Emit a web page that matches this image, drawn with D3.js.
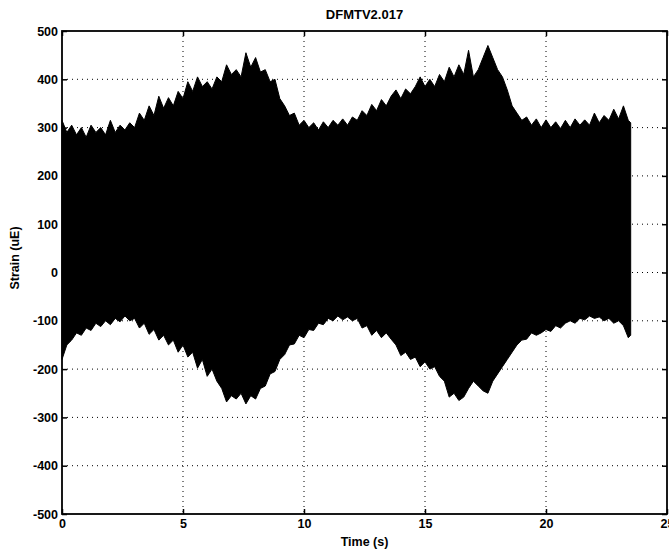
<!DOCTYPE html>
<html>
<head>
<meta charset="utf-8">
<script src="https://cdn.jsdelivr.net/npm/d3@7"></script>
<style>
  body { margin: 0; background: #fff; }
  text { font-family: "Liberation Sans", Arial, Helvetica, sans-serif; font-weight: bold; }
</style>
</head>
<body>
<svg id="chart" width="669" height="551"></svg>
<script>
// signal envelope, sampled every 0.2 s (last point is the end of record)
const sampleStep = 0.2;
const endTime = 23.5;
const upperEnv = [
  315, 290, 305, 285, 300, 280, 305, 290, 300, 285,
  315, 290, 305, 295, 310, 300, 330, 315, 345, 325,
  365, 340, 362, 345, 375, 360, 395, 375, 405, 385,
  395, 380, 405, 395, 430, 410, 420, 405, 455, 425,
  445, 415, 420, 395, 400, 360, 345, 325, 330, 305,
  315, 300, 310, 295, 312, 300, 315, 305, 318, 305,
  322, 315, 335, 325, 348, 335, 358, 345, 365, 378,
  360, 380, 370, 385, 405, 385, 400, 385, 410, 395,
  425, 405, 430, 410, 460, 405, 420, 445, 470, 445,
  420, 405, 378, 345, 330, 315, 322, 305, 318, 300,
  316, 300, 312, 298, 315, 300, 318, 305, 316, 305,
  330, 310, 325, 315, 338, 318, 345, 315, 310
];
const lowerEnv = [
  -180, -150, -140, -125, -130, -115, -120, -105, -112, -100,
  -108, -95, -102, -90, -100, -95, -115, -105, -128, -118,
  -140, -130, -150, -140, -165, -150, -175, -165, -198, -180,
  -215, -200, -225, -240, -268, -255, -262, -250, -272, -255,
  -262, -240, -235, -210, -205, -180, -170, -150, -148, -130,
  -135, -118, -120, -105, -108, -95, -100, -90, -98, -92,
  -100, -95, -115, -110, -130, -120, -135, -125, -138, -150,
  -172, -165, -180, -175, -195, -185, -200, -195, -215, -225,
  -258, -250, -265, -258, -240, -225, -235, -245, -250, -225,
  -210, -195, -180, -165, -150, -140, -138, -125, -130, -125,
  -118, -122, -110, -115, -105, -100, -105, -95, -98, -90,
  -95, -92, -100, -95, -105, -100, -110, -135, -130
];
const xTicks = [0, 5, 10, 15, 20, 25];
const yTicks = [-500, -400, -300, -200, -100, 0, 100, 200, 300, 400, 500];
const title = "DFMTV2.017";
const xLabel = "Time (s)";
const yLabel = "Strain (uE)";

const margin = {top: 31, left: 62, right: 2, bottom: 37};
const width = 669 - margin.left - margin.right;
const height = 551 - margin.top - margin.bottom;

const svg = d3.select("#chart");
const g = svg.append("g").attr("transform", `translate(${margin.left},${margin.top})`);

const x = d3.scaleLinear().domain([0, 25]).range([0, width]);
const y = d3.scaleLinear().domain([-500, 500]).range([height, 0]);

const timeAt = i => Math.min(i * sampleStep, endTime);

// dotted grid
g.append("g").selectAll("line")
  .data(xTicks.slice(1, -1))
  .enter().append("line")
  .attr("x1", d => x(d)).attr("x2", d => x(d))
  .attr("y1", 0).attr("y2", height)
  .attr("stroke", "#000").attr("stroke-width", 1)
  .attr("stroke-dasharray", "1,4");
g.append("g").selectAll("line")
  .data(yTicks.slice(1, -1))
  .enter().append("line")
  .attr("x1", 0).attr("x2", width)
  .attr("y1", d => y(d)).attr("y2", d => y(d))
  .attr("stroke", "#000").attr("stroke-width", 1)
  .attr("stroke-dasharray", "1,4");

// signal band: upper envelope forward, lower envelope back
const pts = upperEnv.map((v, i) => [timeAt(i), v])
  .concat(lowerEnv.map((v, i) => [timeAt(i), v]).reverse());
const line = d3.line().x(d => x(d[0])).y(d => y(d[1]));
g.append("path")
  .attr("d", line(pts) + "Z")
  .attr("fill", "#000")
  .attr("stroke", "#000")
  .attr("stroke-width", 1)
  .attr("stroke-linejoin", "miter");

// axes with inward ticks
const fs = "12.5px";
const left = g.append("g").call(d3.axisLeft(y).tickValues(yTicks).tickSize(-5).tickPadding(4));
const bottom = g.append("g").attr("transform", `translate(0,${height})`)
  .call(d3.axisBottom(x).tickValues(xTicks).tickSize(-5).tickPadding(5));
g.append("g").call(d3.axisTop(x).tickValues(xTicks).tickSize(-5).tickFormat(""));
g.append("g").attr("transform", `translate(${width},0)`)
  .call(d3.axisRight(y).tickValues(yTicks).tickSize(-5).tickFormat(""));

g.selectAll(".domain").remove();
g.selectAll(".tick line").attr("stroke", "#000").attr("stroke-width", 1.5);
g.selectAll(".tick text").attr("fill", "#000").style("font-size", fs).style("font-weight", "bold")
  .style("font-family", '"Liberation Sans", Arial, sans-serif');
left.selectAll(".tick text").text(d => d < 0 ? "-" + Math.abs(d) : d);

g.append("rect")
  .attr("width", width).attr("height", height)
  .attr("fill", "none").attr("stroke", "#000").attr("stroke-width", 1.8);

// labels
svg.append("text")
  .attr("x", margin.left + width / 2).attr("y", 19)
  .attr("text-anchor", "middle").style("font-size", "13px")
  .text(title);
svg.append("text")
  .attr("x", margin.left + width / 2).attr("y", 546)
  .attr("text-anchor", "middle").style("font-size", "12.5px")
  .text(xLabel);
svg.append("text")
  .attr("transform", `translate(19,258) rotate(-90)`)
  .attr("text-anchor", "middle").style("font-size", "12.5px")
  .text(yLabel);
</script>
</body>
</html>
